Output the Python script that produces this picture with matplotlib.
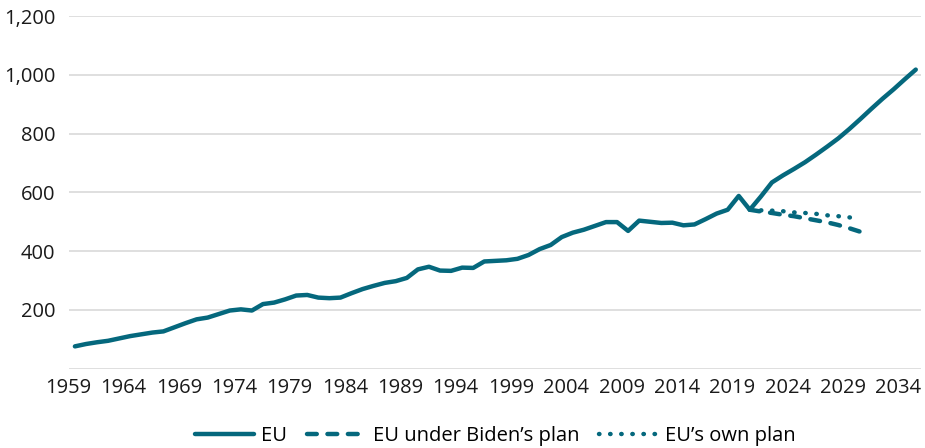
import matplotlib
matplotlib.use("Agg")
import matplotlib.pyplot as plt
import matplotlib.transforms as mtransforms
from matplotlib.ticker import FuncFormatter

# data
years = list(range(1959, 2036))
eu = [76, 84, 90, 95, 103, 111, 117, 123, 127, 141,
      155, 168, 174, 186, 198, 202, 198, 220, 225, 236,
      249, 251, 242, 240, 242, 257, 271, 282, 292, 298,
      309, 338, 347, 334, 333, 344, 343, 365, 367, 369,
      374, 387, 407, 421, 448, 463, 473, 486, 499, 499,
      469, 504, 500, 496, 497, 488, 491, 509, 528, 541,
      588, 541, 586, 634, 658, 680, 703, 729, 756, 784,
      816, 850, 885, 919, 951, 985, 1018]

plan_years = list(range(2020, 2031))
biden_plan = [541, 535, 530, 524, 519, 512, 505, 498, 489, 478, 466]
eu_own_plan = [541, 539, 538, 536, 532, 530, 527, 522, 519, 515, 511]

colour = '#05687d'

plt.rcParams['font.family'] = ['Open Sans', 'DejaVu Sans']

fig = plt.figure(figsize=(9.25, 4.48), dpi=100)
ax = fig.add_axes([0.075, 0.177, 0.921, 0.787])

ax.plot(years, eu, color=colour, lw=3.2, solid_capstyle='round', label='EU')
ax.plot(plan_years, biden_plan, color=colour, lw=3.2, ls=(0, (2.2, 2.4)),
        dash_capstyle='round', label='EU under Biden\u2019s plan')
ax.plot(plan_years, eu_own_plan, color=colour, lw=3.2, ls=(0, (0.1, 2.4)),
        dash_capstyle='round', label='EU\u2019s own plan')

ax.set_xlim(1958.5, 2035.5)
ax.set_ylim(0, 1200)
ax.set_xticks(list(range(1959, 2036, 5)))
ax.set_yticks(list(range(0, 1201, 200)))
ax.yaxis.set_major_formatter(FuncFormatter(lambda v, p: '' if v == 0 else f'{int(v):,}'))

ax.grid(axis='y', color='#d9d9d9', lw=1.2)
ax.set_axisbelow(True)
for s in ax.spines.values():
    s.set_visible(False)
ax.tick_params(length=0, labelsize=14.5, colors='#1a1a1a')
ax.tick_params(axis='y', pad=10)
ax.tick_params(axis='x', pad=7)

# the year labels sit a little left of their points in the original
shift = mtransforms.ScaledTranslation(-6.5 / 100, 0, fig.dpi_scale_trans)
for lab in ax.get_xticklabels():
    lab.set_transform(lab.get_transform() + shift)

# legend centred under the plot area, not the whole figure
fig.legend(loc='lower center', bbox_to_anchor=(0.075 + 0.921 / 2, -0.035), ncol=3, frameon=False,
           fontsize=14.5, handlelength=2.9, columnspacing=1.0, handletextpad=0.35)

fig.savefig('out.png', dpi=100)
